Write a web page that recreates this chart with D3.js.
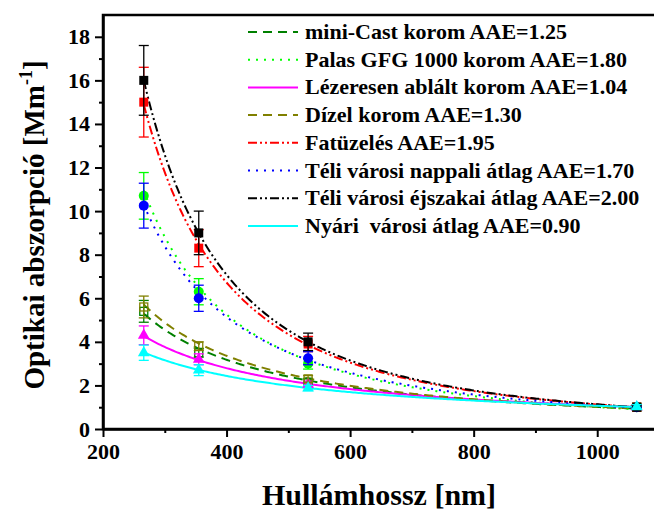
<html>
<head>
<meta charset="utf-8">
<script src="https://d3js.org/d3.v7.min.js"></script>
<style>
  body { margin: 0; background: #fff; }
</style>
</head>
<body>
<svg width="654" height="511"></svg>
<script>
// wavelengths where absorption was measured (nm)
const wavelengths = [266, 355, 532, 1064];

const names = [
  "mini-Cast korom AAE=1.25",
  "Palas GFG 1000 korom AAE=1.80",
  "Lézeresen ablált korom AAE=1.04",
  "Dízel korom AAE=1.30",
  "Fatüzelés AAE=1.95",
  "Téli városi nappali átlag AAE=1.70",
  "Téli városi éjszakai átlag AAE=2.00",
  "Nyári  városi átlag AAE=0.90"
];
const aae = [1.25, 1.80, 1.04, 1.30, 1.95, 1.70, 2.00, 0.90];

// absorption coefficients [Mm-1], one row per series
const values = [
  [5.4, 3.5, 2.15, 1.0],
  [10.7, 6.3, 3.0, 1.0],
  [4.3, 3.2, 2.05, 1.0],
  [5.6, 3.8, 2.3, 1.0],
  [15.0, 8.3, 3.9, 1.0],
  [10.25, 6.0, 3.25, 1.0],
  [16.0, 9.0, 4.0, 1.0],
  [3.5, 2.7, 1.88, 1.02]
];
const errors = [
  [0.5, 0.2, 0.15, 0.08],
  [1.07, 0.6, 0.25, 0.08],
  [0.43, 0.25, 0.15, 0.08],
  [0.5, 0.2, 0.15, 0.08],
  [1.6, 0.85, 0.35, 0.1],
  [1.03, 0.6, 0.3, 0.08],
  [1.6, 1.0, 0.4, 0.1],
  [0.35, 0.25, 0.12, 0.1]
];

const colors = ["#008000", "#00ff00", "#ff00ff", "#808000", "#ff0000", "#0000ff", "#000000", "#00ffff"];
const dashes = ["9,6", "2,6", null, "9,6", "9,3,2,3,2,3", "2,6", "9,3,2,3,2,3", null];
const markers = ["openSquare", "circle", "triangle", "openSquare", "square", "circle", "square", "triangle"];

const xTicks = [200, 400, 600, 800, 1000];
const yTicks = [0, 2, 4, 6, 8, 10, 12, 14, 16, 18];

const FONT = "'Liberation Serif', 'Times New Roman', serif";
const svg = d3.select("svg");
const x = d3.scaleLinear().domain([200, 1100]).range([103, 659]);
const y = d3.scaleLinear().domain([0, 19]).range([429, 15]);

// frame (right edge falls outside the picture, like the original crop)
svg.append("rect").attr("x", 103).attr("y", 15).attr("width", 556).attr("height", 414)
  .attr("fill", "none").attr("stroke", "#000").attr("stroke-width", 2.5);

// axes
svg.append("g").attr("transform", "translate(0,429)")
  .call(d3.axisBottom(x).tickValues(xTicks).tickFormat(d3.format("d")).tickSize(8).tickSizeOuter(0).tickPadding(6));
svg.append("g").attr("transform", "translate(0,429)")
  .call(d3.axisBottom(x).tickValues([300, 500, 700, 900]).tickSize(4).tickFormat(""))
  .call(g => g.select(".domain").remove());
svg.append("g").attr("transform", "translate(103,0)")
  .call(d3.axisLeft(y).tickValues(yTicks).tickSize(8).tickSizeOuter(0).tickPadding(5));
svg.append("g").attr("transform", "translate(103,0)")
  .call(d3.axisLeft(y).tickValues(d3.range(1, 19, 2)).tickSize(4).tickFormat(""))
  .call(g => g.select(".domain").remove());
svg.selectAll(".tick line").attr("stroke", "#000").attr("stroke-width", 2);
svg.selectAll(".domain").attr("stroke", "#000").attr("stroke-width", 2.5);
svg.selectAll("g").attr("font-family", FONT).attr("font-size", 22).attr("font-weight", "bold");
svg.selectAll(".tick text").attr("fill", "#000");

// power-law fit curves, amplitude from log-space least squares with fixed AAE
const curves = svg.append("g");
values.forEach((vals, i) => {
  const A = Math.exp(d3.mean(vals, (v, j) => Math.log(v) + aae[i] * Math.log(wavelengths[j] / 1064)));
  const pts = d3.range(266, 1065, 3).map(l => [l, A * Math.pow(l / 1064, -aae[i])]);
  curves.append("path")
    .attr("d", d3.line().x(d => x(d[0])).y(d => y(d[1]))(pts))
    .attr("fill", "none").attr("stroke", colors[i]).attr("stroke-width", 2)
    .attr("stroke-dasharray", dashes[i]);
});

// points with error bars
const pts = svg.append("g");
values.forEach((vals, i) => {
  const g = pts.append("g");
  vals.forEach((v, j) => {
    const cx = x(wavelengths[j]), e = errors[i][j];
    g.append("line").attr("x1", cx).attr("x2", cx).attr("y1", y(v - e)).attr("y2", y(v + e))
      .attr("stroke", colors[i]).attr("stroke-width", 1.3);
    [v - e, v + e].forEach(b => g.append("line").attr("x1", cx - 5).attr("x2", cx + 5)
      .attr("y1", y(b)).attr("y2", y(b)).attr("stroke", colors[i]).attr("stroke-width", 1.3));
    const cy = y(v);
    if (markers[i] === "circle") {
      g.append("circle").attr("cx", cx).attr("cy", cy).attr("r", 5).attr("fill", colors[i]);
    } else if (markers[i] === "square") {
      g.append("rect").attr("x", cx - 4.5).attr("y", cy - 4.5).attr("width", 9).attr("height", 9).attr("fill", colors[i]);
    } else if (markers[i] === "openSquare") {
      g.append("rect").attr("x", cx - 4).attr("y", cy - 4).attr("width", 8).attr("height", 8)
        .attr("fill", "none").attr("stroke", colors[i]).attr("stroke-width", 1.3);
    } else {
      g.append("path").attr("d", d3.symbol().type(d3.symbolTriangle).size(60)())
        .attr("transform", `translate(${cx},${cy})`).attr("fill", colors[i]);
    }
  });
});

// legend
const leg = svg.append("g");
names.forEach((n, i) => {
  const ly = 32 + i * 27.7;
  leg.append("line").attr("x1", 248).attr("x2", 298).attr("y1", ly).attr("y2", ly)
    .attr("stroke", colors[i]).attr("stroke-width", 2).attr("stroke-dasharray", dashes[i]);
  leg.append("text").attr("x", 305).attr("y", ly + 7)
    .attr("font-family", FONT).attr("font-weight", "bold").attr("font-size", 22)
    .attr("xml:space", "preserve").style("white-space", "pre").text(n);
});

// axis titles
svg.append("text").attr("x", 379).attr("y", 505).attr("text-anchor", "middle")
  .attr("font-family", FONT).attr("font-weight", "bold").attr("font-size", 30)
  .text("Hullámhossz [nm]");
const yt = svg.append("text").attr("transform", "translate(44,225) rotate(-90)")
  .attr("text-anchor", "middle")
  .attr("font-family", FONT).attr("font-weight", "bold").attr("font-size", 29);
yt.append("tspan").text("Optikai abszorpció [Mm");
yt.append("tspan").attr("dy", -12).attr("font-size", 18).text("-1");
yt.append("tspan").attr("dy", 12).text("]");
</script>
</body>
</html>
